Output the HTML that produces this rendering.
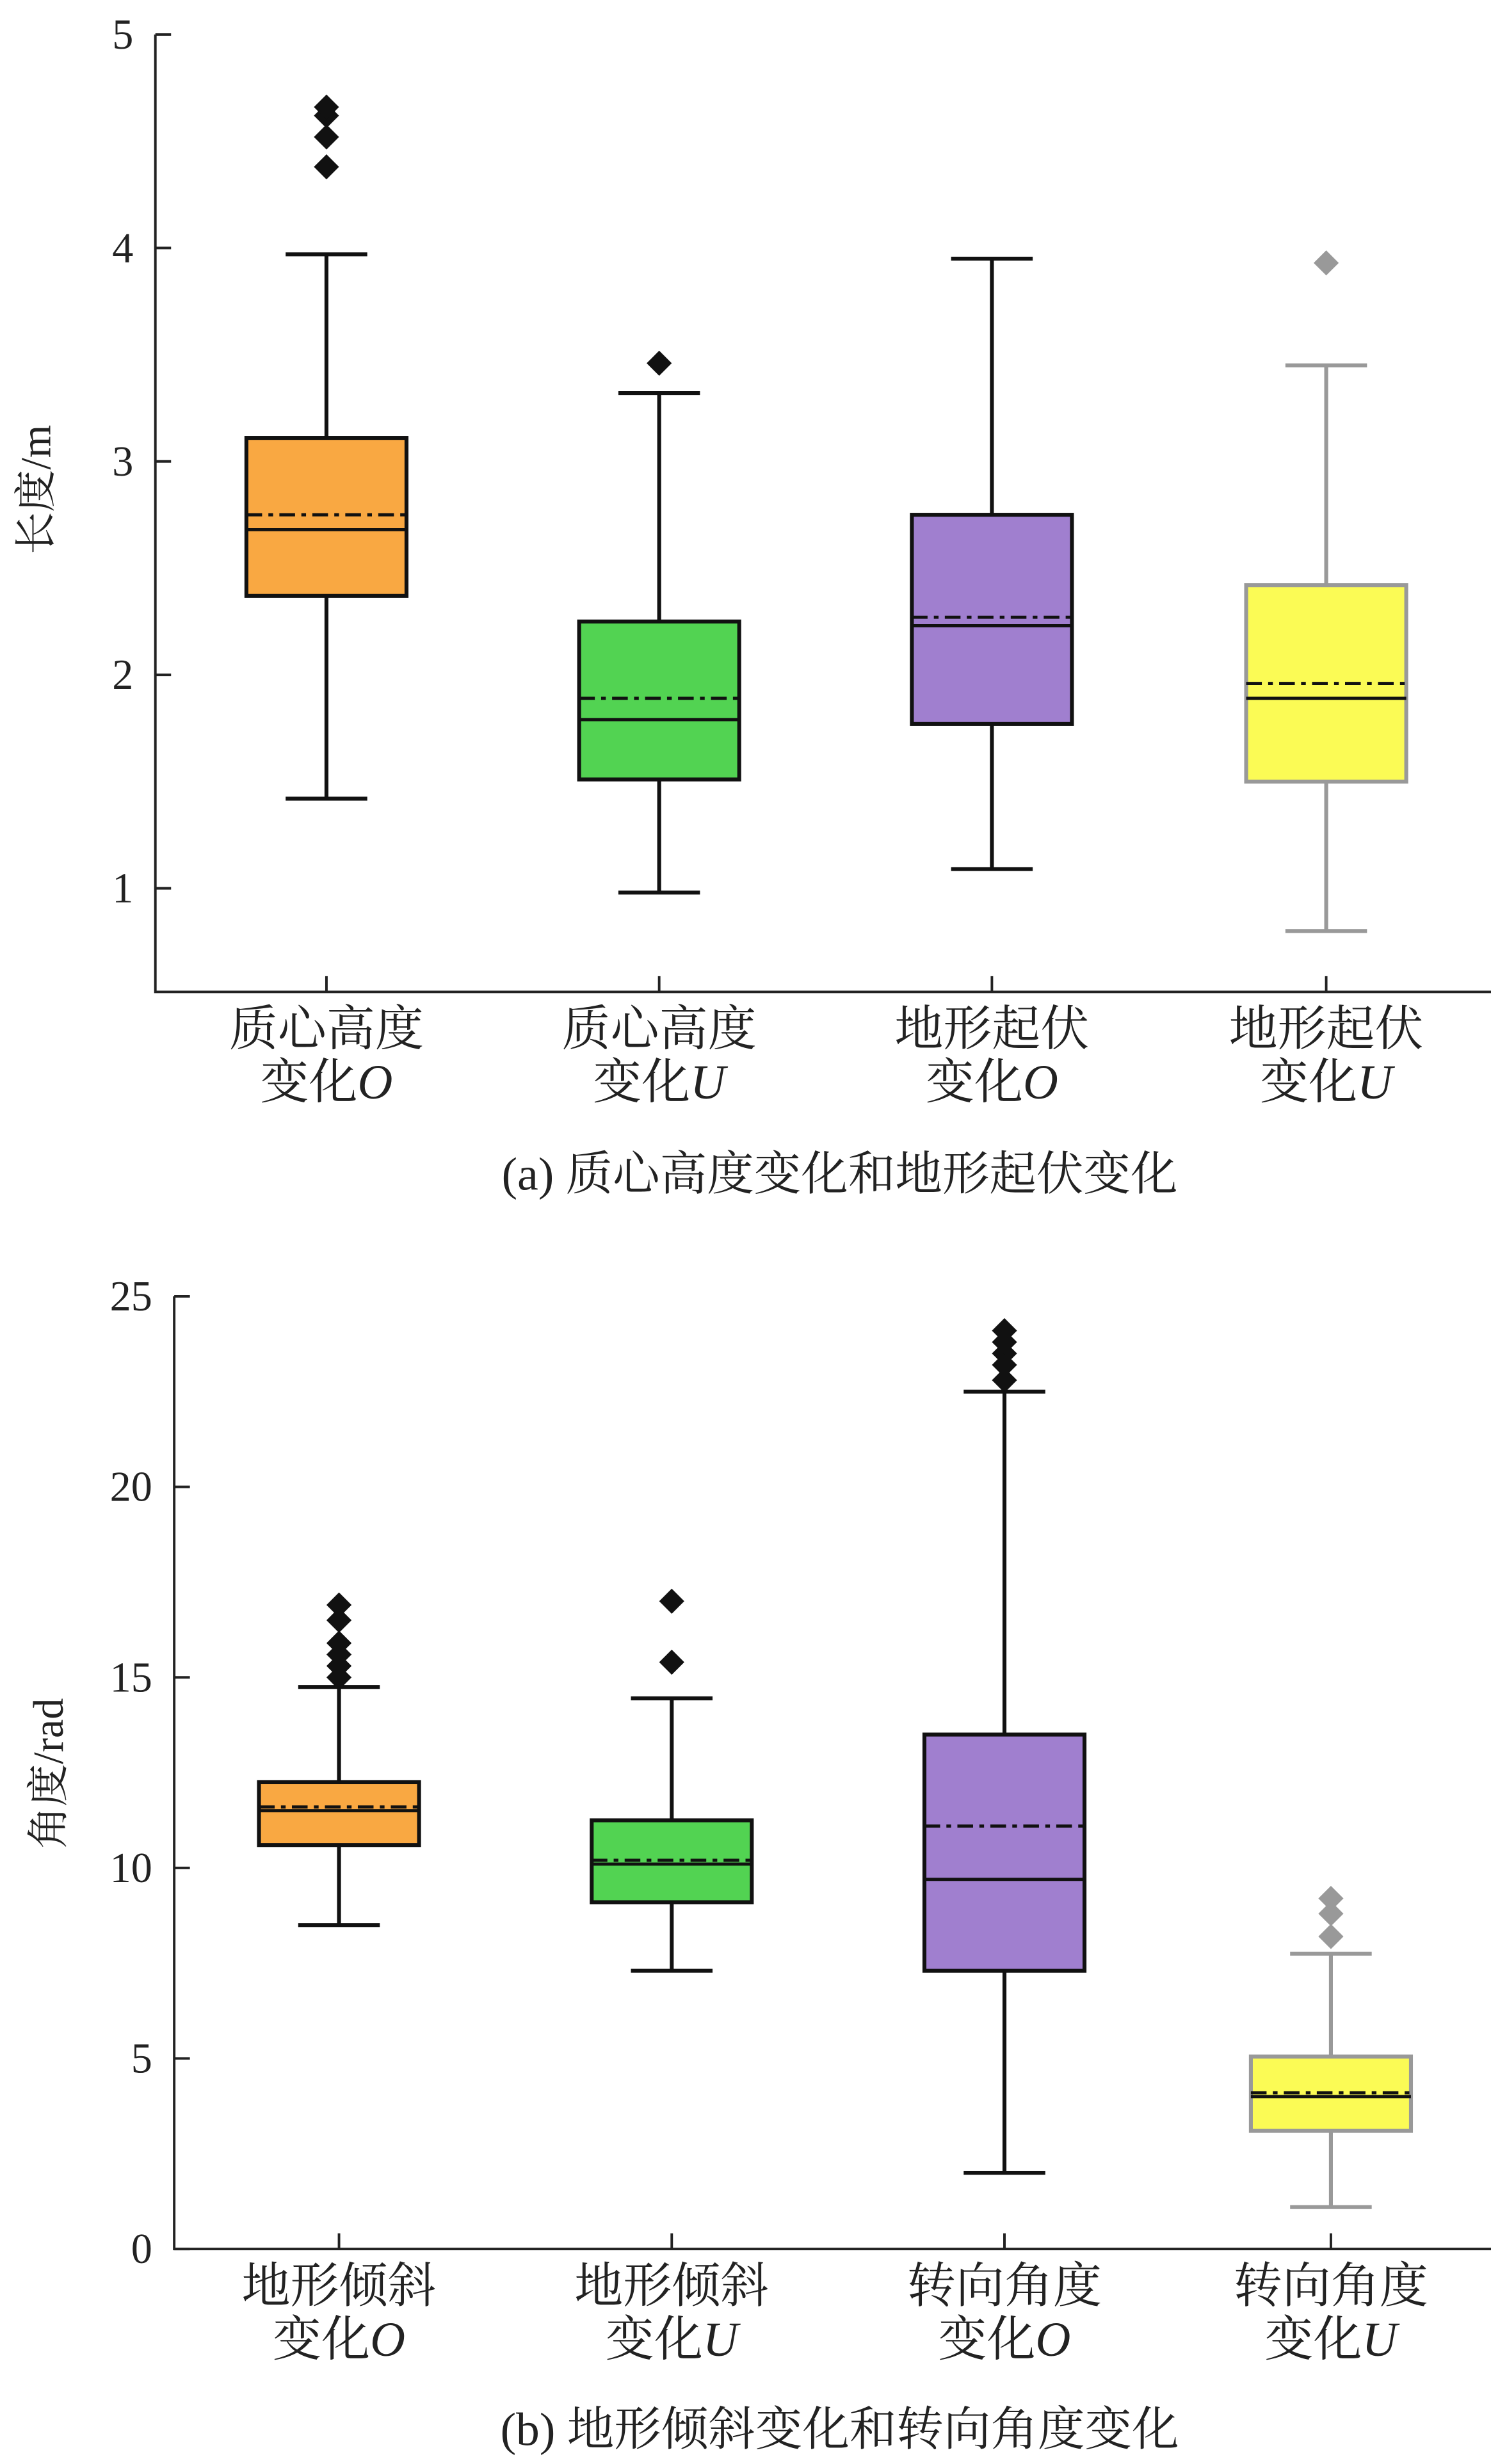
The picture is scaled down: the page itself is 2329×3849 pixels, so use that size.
<!DOCTYPE html>
<html><head><meta charset="utf-8"><style>
html,body{margin:0;padding:0;background:#fff}
svg{display:block}
text{font-family:"Liberation Serif","Noto Serif CJK SC",serif;fill:#222}
</style></head><body>
<svg id="chart" width="2329" height="3849" viewBox="0 0 950 1570" preserveAspectRatio="none" xmlns="http://www.w3.org/2000/svg"></svg>
<script>
// Panel (a)
const catsA1 = ["质心高度","质心高度","地形起伏","地形起伏"];
const suffixA = ["O","U","O","U"];
const q1A = [2.37,1.51,1.77,1.50];
const q3A = [3.11,2.25,2.75,2.42];
const medA = [2.68,1.79,2.23,1.89];
const meanA = [2.75,1.89,2.27,1.96];
const loA = [1.42,0.98,1.09,0.80];
const hiA = [3.97,3.32,3.95,3.45];
const outA = [[4.38,4.52,4.62,4.66],[3.46],[],[3.93]];
const ticksA = [1,2,3,4,5];
// Panel (b)
const catsB1 = ["地形倾斜","地形倾斜","转向角度","转向角度"];
const suffixB = ["O","U","O","U"];
const q1B = [10.6,9.1,7.3,3.1];
const q3B = [12.25,11.25,13.5,5.05];
const medB = [11.5,10.1,9.7,4.0];
const meanB = [11.6,10.2,11.1,4.1];
const loB = [8.5,7.3,2.0,1.1];
const hiB = [14.75,14.45,22.5,7.75];
const outB = [[15.0,15.3,15.6,15.9,16.5,16.9],[15.4,17.0],[22.8,23.2,23.5,23.8,24.1],[8.2,8.8,9.2]];
const ticksB = [0,5,10,15,20,25];

const fills = ["#f9a842","#52d352","#a07fcf","#fbfb55"];
const strokes = ["#111","#111","#111","#999"];
const svg = document.getElementById('chart');
const NS = "http://www.w3.org/2000/svg";
function mk(tag, attrs, parent){const e=document.createElementNS(NS,tag);for(const k in attrs)e.setAttribute(k,attrs[k]);(parent||svg).appendChild(e);return e;}

function panel(cfg){
  const g = mk('g',{});
  
  
  const y = v => cfg.y0 + (v - cfg.v0) * cfg.k;
  const ax = mk('path',{d:`M${cfg.ax},${cfg.top} V${cfg.base} H950`,stroke:'#222','stroke-width':1.6,fill:'none'},g);
  
  
  cfg.ticks.forEach(t=>{
    mk('line',{x1:cfg.ax,x2:cfg.ax+10,y1:y(t),y2:y(t),stroke:'#222','stroke-width':1.6},g);
    const tx = mk('text',{x:cfg.ax-14,y:y(t)+9,'text-anchor':'end','font-size':27},g);
    tx.textContent = t;
    
    
  });
  const yl = mk('text',{transform:`translate(${cfg.ylx},${cfg.yly}) rotate(-90)`,'text-anchor':'middle','font-size':27},g);
  yl.textContent = cfg.ylabel;
  
  
  const hw = 51;
  cfg.xs.forEach((x,i)=>{
    const col = strokes[i];
    mk('line',{x1:x,x2:x,y1:cfg.base,y2:cfg.base-10,stroke:'#222','stroke-width':1.6},g);
    mk('line',{x1:x,x2:x,y1:y(cfg.lo[i]),y2:y(cfg.q1[i]),stroke:col,'stroke-width':2.5},g);
    mk('line',{x1:x,x2:x,y1:y(cfg.hi[i]),y2:y(cfg.q3[i]),stroke:col,'stroke-width':2.5},g);
    mk('line',{x1:x-26,x2:x+26,y1:y(cfg.lo[i]),y2:y(cfg.lo[i]),stroke:col,'stroke-width':2.5},g);
    mk('line',{x1:x-26,x2:x+26,y1:y(cfg.hi[i]),y2:y(cfg.hi[i]),stroke:col,'stroke-width':2.5},g);
    const b = mk('rect',{x:x-hw,y:y(cfg.q3[i]),width:hw*2,height:y(cfg.q1[i])-y(cfg.q3[i]),fill:fills[i],stroke:col,'stroke-width':2.5},g);
    
    
    mk('line',{x1:x-hw,x2:x+hw,y1:y(cfg.med[i]),y2:y(cfg.med[i]),stroke:'#111','stroke-width':2},g);
    mk('line',{x1:x-hw,x2:x+hw,y1:y(cfg.mean[i]),y2:y(cfg.mean[i]),stroke:'#111','stroke-width':2,'stroke-dasharray':'10,4,3,4'},g);
    cfg.out[i].forEach(v=>{
      const d = mk('path',{d:`M${x},${y(v)-8} L${x+8},${y(v)} L${x},${y(v)+8} L${x-8},${y(v)} Z`,fill:i===3?'#999':'#111'},g);
      
      
    });
    const l1 = mk('text',{x:x,y:cfg.l1y,'text-anchor':'middle','font-size':31},g);
    l1.textContent = cfg.c1[i];
    
    
    const l2 = mk('text',{x:x,y:cfg.l1y+34,'text-anchor':'middle','font-size':31},g);
    l2.textContent = '变化';
    
    
    const sp = mk('tspan',{'font-style':'italic'},l2); sp.textContent = cfg.suf[i];
  });
  const cap = mk('text',{x:535,y:cfg.capy,'text-anchor':'middle','font-size':30},g);
  cap.textContent = cfg.caption;
  
  
}
panel({name:'panel-a',ax:99,top:22,base:632,v0:5,y0:22,k:-136,ticks:ticksA,xs:[208,420,632,845],
  q1:q1A,q3:q3A,med:medA,mean:meanA,lo:loA,hi:hiA,out:outA,c1:catsA1,suf:suffixA,l1y:666,
  ylabel:'长度/m',ylx:32,yly:312,caption:'(a) 质心高度变化和地形起伏变化',capy:758});
panel({name:'panel-b',ax:111,top:826,base:1433,v0:0,y0:1433,k:-24.28,ticks:ticksB,xs:[216,428,640,848],
  q1:q1B,q3:q3B,med:medB,mean:meanB,lo:loB,hi:hiB,out:outB,c1:catsB1,suf:suffixB,l1y:1467,
  ylabel:'角度/rad',ylx:40,yly:1130,caption:'(b) 地形倾斜变化和转向角度变化',capy:1558});
</script>
</body></html>
